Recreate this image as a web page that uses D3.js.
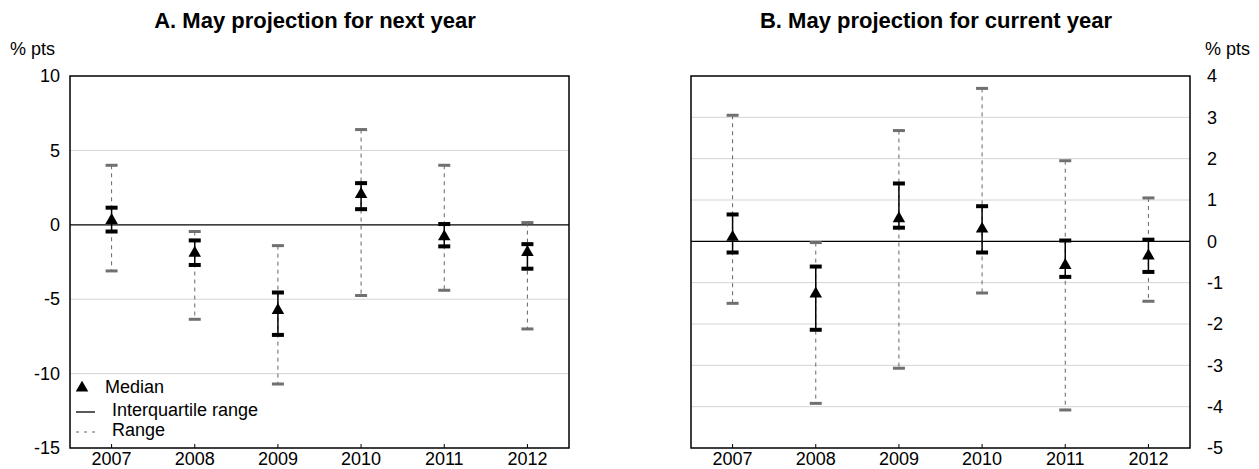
<!DOCTYPE html>
<html>
<head>
<meta charset="utf-8">
<script src="https://cdn.jsdelivr.net/npm/d3@7"></script>
<style>
  body { margin: 0; background: #fff; }
  text { font-family: "Liberation Sans", Arial, sans-serif; fill: #000; }
</style>
</head>
<body>
<div id="chart"></div>
<script>
const years = ["2007", "2008", "2009", "2010", "2011", "2012"];

// Panel A: May projection for next year
const nextMin    = [-3.1, -6.35, -10.7, -4.75, -4.4, -7.0];
const nextQ1     = [-0.45, -2.7, -7.4, 1.05, -1.45, -2.95];
const nextMedian = [0.3, -1.9, -5.75, 2.05, -0.8, -1.85];
const nextQ3     = [1.15, -1.05, -4.55, 2.8, 0.05, -1.3];
const nextMax    = [4.0, -0.45, -1.4, 6.4, 4.0, 0.15];

// Panel B: May projection for current year
const currMin    = [-1.5, -3.92, -3.07, -1.25, -4.08, -1.45];
const currQ1     = [-0.27, -2.14, 0.33, -0.27, -0.86, -0.74];
const currMedian = [0.1, -1.27, 0.55, 0.3, -0.58, -0.35];
const currQ3     = [0.65, -0.61, 1.4, 0.85, 0.02, 0.04];
const currMax    = [3.05, -0.03, 2.68, 3.7, 1.95, 1.05];

const leftTicks = [10, 5, 0, -5, -10, -15];
const rightTicks = [4, 3, 2, 1, 0, -1, -2, -3, -4, -5];

const svgWidth = 1259;
const svgHeight = 469;

const svg = d3.select("#chart")
  .append("svg")
  .attr("width", svgWidth)
  .attr("height", svgHeight);

function rows(mins, q1s, meds, q3s, maxs) {
  return years.map((y, i) => ({
    year: y, min: mins[i], q1: q1s[i], med: meds[i], q3: q3s[i], max: maxs[i]
  }));
}

const tri = d3.symbol().type(d3.symbolTriangle).size(68);

function drawPanel(opts) {
  const x = d3.scaleBand().domain(years).range([opts.left, opts.left + 499]);
  const y = d3.scaleLinear().domain(opts.domain).range([448, 76]);
  const g = svg.append("g");

  // gridlines
  g.selectAll(".grid")
    .data(opts.ticks.filter(t => t !== 0 && t !== opts.domain[0] && t !== opts.domain[1]))
    .enter().append("line")
    .attr("x1", opts.left).attr("x2", opts.left + 499)
    .attr("y1", d => y(d)).attr("y2", d => y(d))
    .attr("stroke", "#d4d4d4").attr("stroke-width", 1);

  // zero line
  g.append("line")
    .attr("x1", opts.left).attr("x2", opts.left + 499)
    .attr("y1", y(0)).attr("y2", y(0))
    .attr("stroke", "#000").attr("stroke-width", 1.3);

  // frame
  g.append("rect")
    .attr("x", opts.left).attr("y", 76)
    .attr("width", 499).attr("height", 372)
    .attr("fill", "none").attr("stroke", "#000").attr("stroke-width", 1.5);

  // x axis
  const xAxis = g.append("g")
    .attr("transform", `translate(0, 448)`)
    .call(d3.axisBottom(x).tickSizeInner(-4).tickSizeOuter(0).tickPadding(4));
  xAxis.select(".domain").remove();
  xAxis.selectAll("text").style("font-size", "18px");

  // y axis (plain hyphen for negatives, as in the original)
  const yAxis = g.append("g")
    .attr("transform", `translate(${opts.right ? opts.left + 499 : opts.left}, 0)`)
    .call((opts.right ? d3.axisRight(y) : d3.axisLeft(y))
      .tickValues(opts.ticks).tickFormat(d => String(d))
      .tickSize(0).tickPadding(opts.right ? 17 : 10));
  yAxis.select(".domain").remove();
  yAxis.selectAll("text").style("font-size", "18px");

  const data = opts.data;
  const cx = d => x(d.year) + x.bandwidth() / 2;

  // range: dashed grey line with caps
  g.selectAll(".range")
    .data(data).enter().append("line")
    .attr("x1", cx).attr("x2", cx)
    .attr("y1", d => y(d.max)).attr("y2", d => y(d.min))
    .attr("stroke", "#666").attr("stroke-width", 1)
    .attr("stroke-dasharray", "4,4");

  ["min", "max"].forEach(k => {
    g.selectAll(".cap-" + k)
      .data(data).enter().append("rect")
      .attr("x", d => cx(d) - 6).attr("y", d => y(d[k]) - 1.5)
      .attr("width", 12).attr("height", 3)
      .attr("fill", "#707070");
  });

  // interquartile range
  g.selectAll(".iqr")
    .data(data).enter().append("line")
    .attr("x1", cx).attr("x2", cx)
    .attr("y1", d => y(d.q3)).attr("y2", d => y(d.q1))
    .attr("stroke", "#000").attr("stroke-width", 1.5);

  ["q1", "q3"].forEach(k => {
    g.selectAll(".cap-" + k)
      .data(data).enter().append("rect")
      .attr("x", d => cx(d) - 6).attr("y", d => y(d[k]) - 2)
      .attr("width", 12).attr("height", 4)
      .attr("fill", "#000");
  });

  // median triangles
  g.selectAll(".median")
    .data(data).enter().append("path")
    .attr("d", tri)
    .attr("transform", d => `translate(${cx(d)}, ${y(d.med)})`)
    .attr("fill", "#000");

  // title
  svg.append("text")
    .attr("x", opts.left + 245).attr("y", 28)
    .attr("text-anchor", "middle")
    .style("font-size", "22px").style("font-weight", "bold")
    .text(opts.title);

  // unit label
  svg.append("text")
    .attr("x", opts.right ? opts.left + 514 : 10).attr("y", 55)
    .style("font-size", "18px")
    .text("% pts");
}

drawPanel({
  left: 70, domain: [-15, 10], ticks: leftTicks, right: false,
  title: "A. May projection for next year",
  data: rows(nextMin, nextQ1, nextMedian, nextQ3, nextMax)
});

drawPanel({
  left: 691, domain: [-5, 4], ticks: rightTicks, right: true,
  title: "B. May projection for current year",
  data: rows(currMin, currQ1, currMedian, currQ3, currMax)
});

// legend (panel A)
const legend = svg.append("g");
legend.append("path")
  .attr("d", tri())
  .attr("transform", "translate(82, 388)")
  .attr("fill", "#000");
legend.append("text").attr("x", 105).attr("y", 393)
  .style("font-size", "18px").text("Median");
legend.append("line")
  .attr("x1", 76).attr("x2", 95).attr("y1", 412).attr("y2", 412)
  .attr("stroke", "#000").attr("stroke-width", 1.3);
legend.append("text").attr("x", 112).attr("y", 416)
  .style("font-size", "18px").text("Interquartile range");
legend.append("line")
  .attr("x1", 76).attr("x2", 96).attr("y1", 432).attr("y2", 432)
  .attr("stroke", "#666").attr("stroke-width", 1)
  .attr("stroke-dasharray", "3,5");
legend.append("text").attr("x", 112).attr("y", 436)
  .style("font-size", "18px").text("Range");
</script>
</body>
</html>
